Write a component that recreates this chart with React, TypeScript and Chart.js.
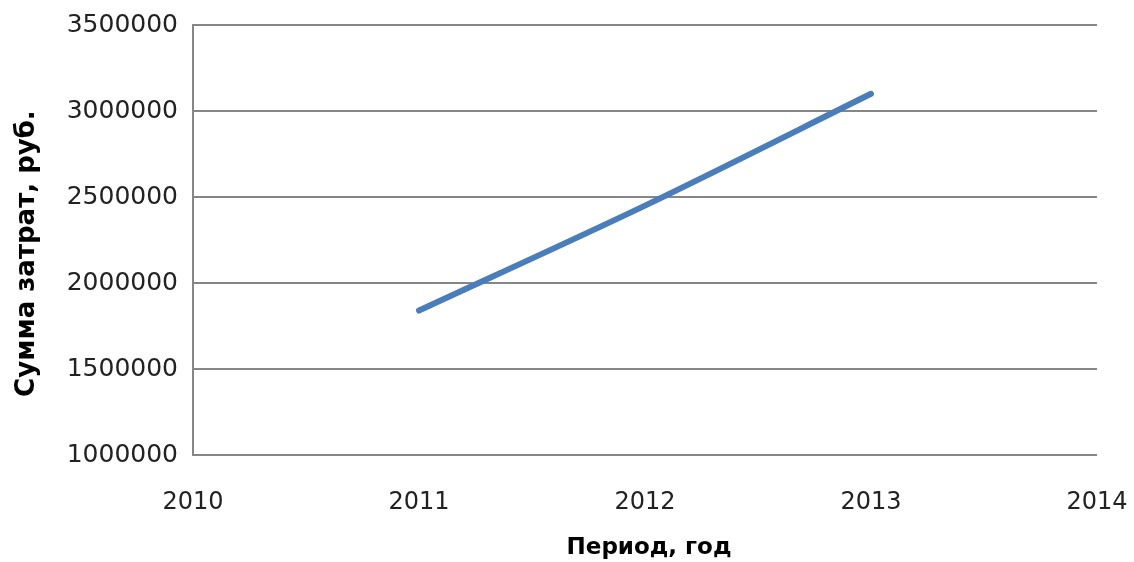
import React, { useEffect, useRef } from "react";
import { Chart, registerables } from "chart.js";

Chart.register(...registerables);

const years = [2011, 2012, 2013];
const costs = [1840000, 2450000, 3100000];
const xTitle = " Период, год";
const yTitle = "Сумма затрат, руб.   ";
const xMin = 2010;
const xMax = 2014;
const yMin = 1000000;
const yMax = 3500000;
const yStep = 500000;

export default function App() {
  const ref = useRef<HTMLCanvasElement | null>(null);
  useEffect(() => {
    if (!ref.current) return;
    const chart = new Chart(ref.current, {
      type: "line",
      data: {
        datasets: [
          {
            data: years.map((y, i) => ({ x: y, y: costs[i] })),
            borderColor: "#4a7ebb",
            borderWidth: 6,
            borderCapStyle: "round",
            pointRadius: 0,
            tension: 0.3,
            fill: false,
          },
        ],
      },
      options: {
        responsive: false,
        animation: false,
        devicePixelRatio: 1,
        layout: { padding: { top: 25, right: 37, left: 0, bottom: 0 } },
        plugins: { legend: { display: false }, tooltip: { enabled: false } },
        scales: {
          x: {
            type: "linear",
            min: xMin,
            max: xMax,
            grid: { display: false, drawTicks: true, tickLength: 31 },
            border: { display: false },
            ticks: {
              stepSize: 1,
              padding: 2,
              color: "#222",
              font: { family: "DejaVu Sans", size: 24 },
              callback: (v: any) => String(v),
            },
            title: {
              display: true,
              text: xTitle,
              color: "#000",
              font: { family: "DejaVu Sans", size: 23, weight: "bold" },
              padding: { top: 0, bottom: 0 },
            },
            afterFit: (s: any) => {
              s.height = 107;
            },
          },
          y: {
            min: yMin,
            max: yMax,
            grid: {
              color: "#868686",
              lineWidth: 2,
              drawTicks: true,
              tickLength: 13,
              tickColor: "rgba(0,0,0,0)",
            },
            border: { display: true, color: "#868686", width: 2 },
            ticks: {
              stepSize: yStep,
              padding: 2,
              color: "#222",
              font: { family: "DejaVu Sans", size: 25 },
              callback: (v: any) => String(v),
            },
            title: {
              display: true,
              text: yTitle,
              color: "#000",
              font: { family: "DejaVu Sans", size: 26, weight: "bold" },
              padding: { top: 12, bottom: 0 },
            },
            afterFit: (s: any) => {
              s.width = 193;
            },
          },
        },
      },
    });
    return () => chart.destroy();
  }, []);
  return (
    <div style={{ position: "absolute", left: 0, top: 0, width: 1134, height: 562, background: "#fff" }}>
      <canvas ref={ref} width={1134} height={562} style={{ display: "block" }} />
    </div>
  );
}
